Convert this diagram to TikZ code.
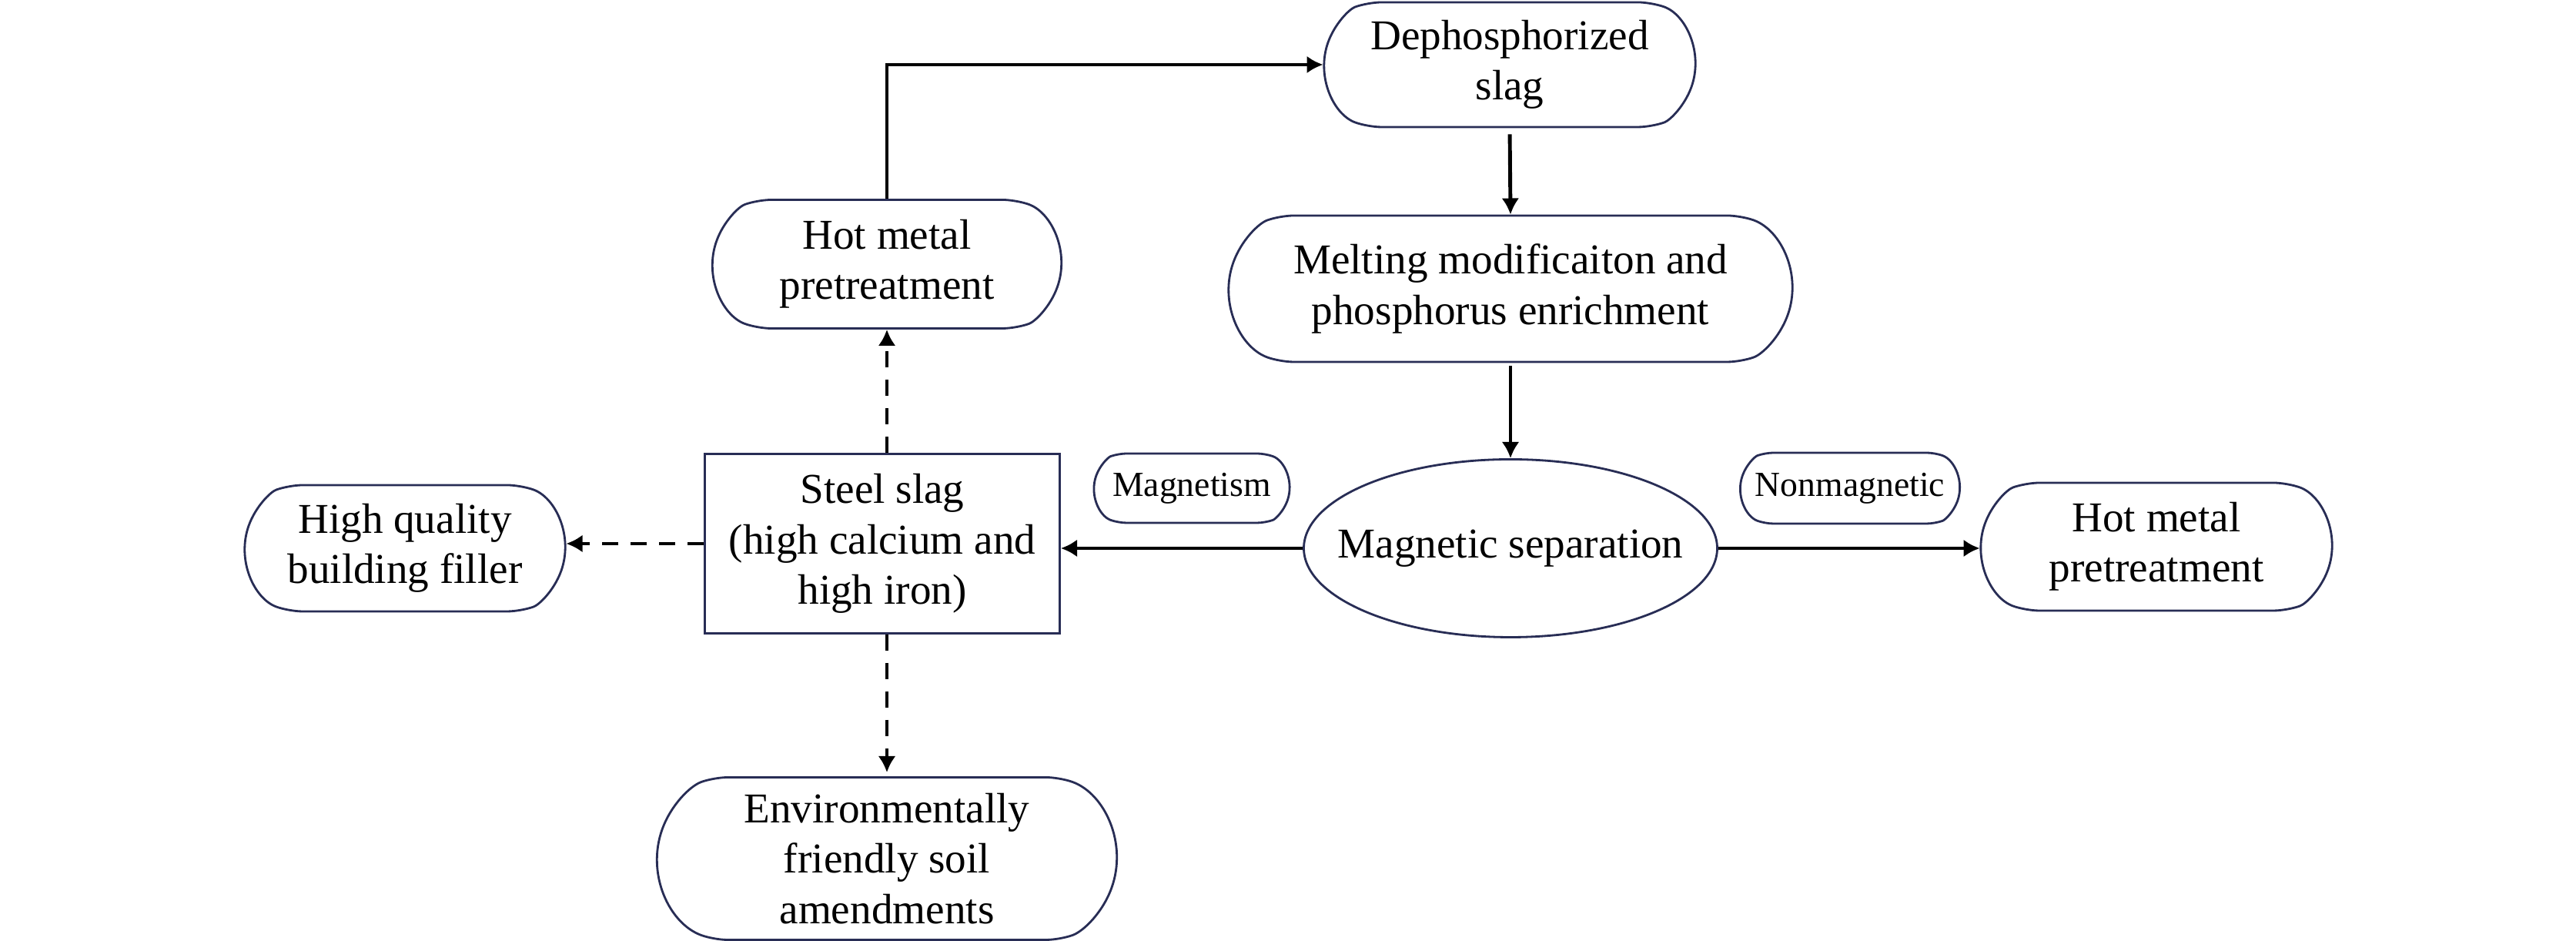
\documentclass[tikz,border=0pt]{standalone}
\usepackage{fontspec}
\setmainfont{Liberation Serif}
\usetikzlibrary{shapes.misc,shapes.geometric,arrows.meta,calc}
\definecolor{boxcol}{RGB}{40,45,85}
\tikzset{
  mainfont/.style={font=\fontsize{15.7}{18.6}\selectfont},
  rbox/.style={draw=boxcol, line width=0.8pt, rounded rectangle, rounded rectangle arc length=140,
    rounded corners=5pt, inner sep=0pt, align=center, mainfont},
  sbox/.style={rbox, rounded corners=3pt, font=\fontsize{13}{15.5}\selectfont},
  rectbox/.style={draw=boxcol, line width=0.8pt, rectangle, inner sep=0pt, align=center, mainfont},
  ellbox/.style={draw=boxcol, line width=0.8pt, ellipse, inner sep=0pt},
  txt/.style={inner sep=0pt, align=center, mainfont},
  arr/.style={-{Latex[length=6pt,width=6.5pt]}, line width=1.4pt, black},
  darr/.style={arr, dash pattern=on 6pt off 4.5pt},
}
\begin{document}
\begin{tikzpicture}
\useasboundingbox (0,0) rectangle (33.46,12.22);
% nodes
\node[rbox, minimum width=4.82cm, minimum height=1.62cm] (dephos) at (19.61,11.38) {Dephosphorized\\slag};
\node[rbox, minimum width=7.32cm, minimum height=1.90cm] (melt) at (19.62,8.47) {Melting modificaiton and\\phosphorus enrichment};
\node[ellbox, minimum width=5.37cm, minimum height=2.31cm] (sep) at (19.62,5.10) {};
\node[txt] (septxt) at (sep.center) {Magnetic separation};
\node[rbox, minimum width=4.53cm, minimum height=1.67cm] (hotL) at (11.52,8.79) {Hot metal\\pretreatment};
\node[rectbox, minimum width=4.61cm, minimum height=2.33cm] (steel) at (11.46,5.16) {Steel slag\\(high calcium and\\high iron)};
\node[sbox, minimum width=2.54cm, minimum height=0.90cm] (magn) at (15.48,5.88) {Magnetism};
\node[sbox, minimum width=2.85cm, minimum height=0.92cm] (nonm) at (24.03,5.88) {Nonmagnetic};
\node[rbox, minimum width=4.56cm, minimum height=1.66cm] (hotR) at (28.01,5.12) {Hot metal\\pretreatment};
\node[rbox, minimum width=4.16cm, minimum height=1.64cm] (hq) at (5.26,5.10) {High quality\\building filler};
\node[rbox, minimum width=5.97cm, minimum height=2.11cm] (env) at (11.52,1.07) {Environmentally\\friendly soil\\amendments};
% connectors
\draw[arr] (hotL.north) |- (dephos.west);
\draw[arr, shorten <=0.08cm] (dephos.south) -- (melt.north);
\draw[arr, shorten <=0.04cm] (melt.south) -- (sep.north);
\draw[arr] (sep.west) -- (sep.west -| steel.east);
\draw[arr] (sep.east) -- (sep.east -| hotR.west);
\draw[darr] (steel.west) -- (steel.west -| hq.east);
\draw[darr] (steel.north -| hotL.south) -- (hotL.south);
\draw[darr, shorten >=0.05cm] (steel.south -| env.north) -- (env.north);
\end{tikzpicture}
\end{document}
